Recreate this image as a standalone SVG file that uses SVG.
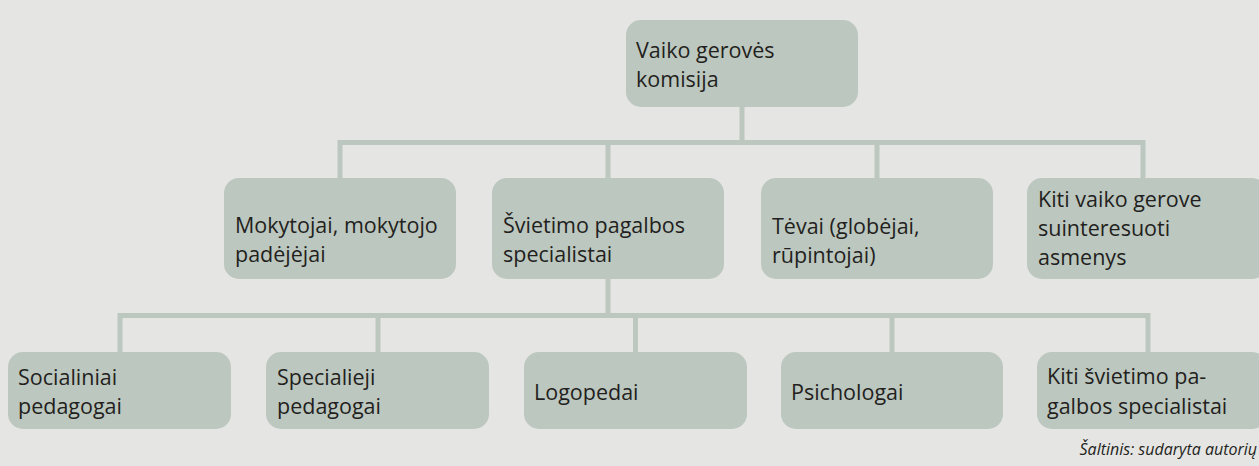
<svg xmlns="http://www.w3.org/2000/svg" width="1259" height="466" viewBox="0 0 1259 466">
<style>
.bg{fill:#e5e5e3}
.box{fill:#bcc7bf}
.ln{fill:none;stroke:#bcc7bf;stroke-width:5;stroke-linejoin:miter}
.t{font-family:"Open Sans","Noto Sans","Liberation Sans",sans-serif;font-size:21.5px;fill:#231f20}
.src{font-family:"Open Sans","Noto Sans","Liberation Sans",sans-serif;font-size:16px;font-style:italic;fill:#231f20}
</style>
<rect class="bg" x="0" y="0" width="1259" height="466"/>
<g id="connectors">
<path class="ln" d="M742,107 V142.5"/>
<path class="ln" d="M340,178 V142.5 H1143 V178"/>
<path class="ln" d="M608,142.5 V178"/>
<path class="ln" d="M877,142.5 V178"/>
<path class="ln" d="M608,279 V315.5"/>
<path class="ln" d="M120,352 V315.5 H1148 V352"/>
<path class="ln" d="M378,315.5 V352"/>
<path class="ln" d="M635.5,315.5 V352"/>
<path class="ln" d="M892,315.5 V352"/>
</g>
<g id="n-komisija">
<rect class="box" x="626" y="20" width="232" height="87" rx="15"/>
<text class="t" x="636"><tspan x="636" y="58">Vaiko gerovės</tspan><tspan x="636" y="87">komisija</tspan></text>
</g>
<g id="n-mokytojai">
<rect class="box" x="224" y="178" width="232" height="101" rx="15"/>
<text class="t"><tspan x="235" y="233">Mokytojai, mokytojo</tspan><tspan x="235" y="262">padėjėjai</tspan></text>
</g>
<g id="n-svietimo">
<rect class="box" x="492" y="178" width="232" height="101" rx="15"/>
<text class="t"><tspan x="503" y="233">Švietimo pagalbos</tspan><tspan x="503" y="262">specialistai</tspan></text>
</g>
<g id="n-tevai">
<rect class="box" x="761" y="178" width="232" height="101" rx="15"/>
<text class="t"><tspan x="772" y="234">Tėvai (globėjai,</tspan><tspan x="772" y="263">rūpintojai)</tspan></text>
</g>
<g id="n-kiti-vaiko">
<rect class="box" x="1027" y="178" width="240" height="101" rx="15"/>
<text class="t"><tspan x="1038" y="207">Kiti vaiko gerove</tspan><tspan x="1038" y="236">suinteresuoti</tspan><tspan x="1038" y="265">asmenys</tspan></text>
</g>
<g id="n-socialiniai">
<rect class="box" x="8" y="352" width="223" height="77" rx="15"/>
<text class="t"><tspan x="18" y="385">Socialiniai</tspan><tspan x="18" y="414">pedagogai</tspan></text>
</g>
<g id="n-specialieji">
<rect class="box" x="266" y="352" width="223" height="77" rx="15"/>
<text class="t"><tspan x="277" y="385">Specialieji</tspan><tspan x="277" y="414">pedagogai</tspan></text>
</g>
<g id="n-logopedai">
<rect class="box" x="524" y="352" width="223" height="77" rx="15"/>
<text class="t" x="534" y="400">Logopedai</text>
</g>
<g id="n-psichologai">
<rect class="box" x="781" y="352" width="222" height="77" rx="15"/>
<text class="t" x="791" y="400">Psichologai</text>
</g>
<g id="n-kiti-svietimo">
<rect class="box" x="1037" y="352" width="230" height="77" rx="15"/>
<text class="t"><tspan x="1047" y="384">Kiti švietimo pa-</tspan><tspan x="1047" y="414">galbos specialistai</tspan></text>
</g>
<text class="src" x="1257" y="455" text-anchor="end">Šaltinis: sudaryta autorių</text>
</svg>
